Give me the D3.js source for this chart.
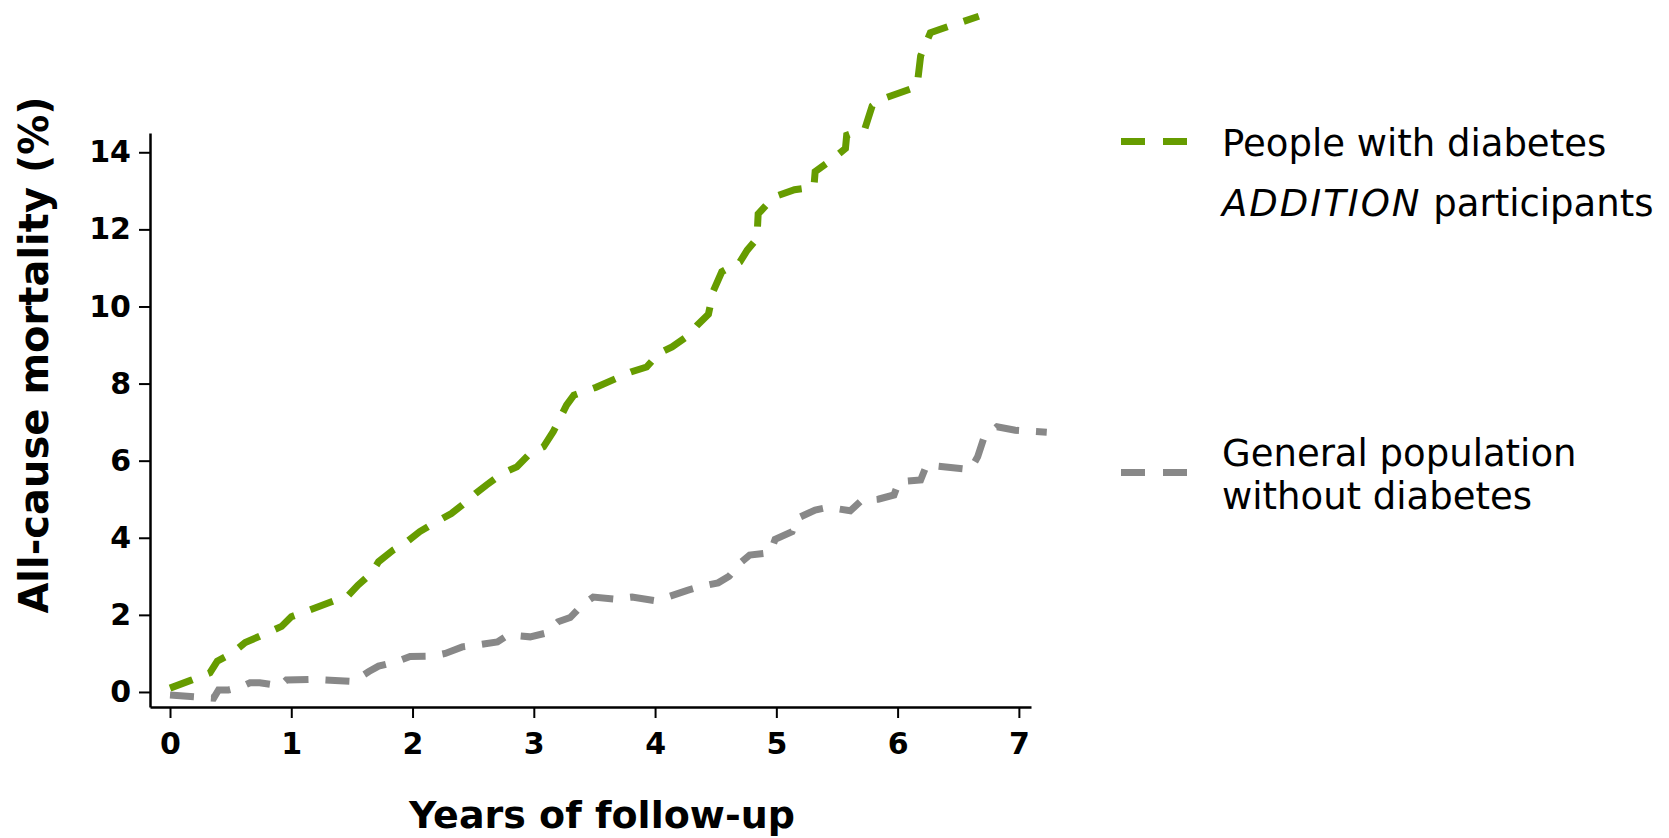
<!DOCTYPE html>
<html>
<head>
<meta charset="utf-8">
<script src="https://cdn.jsdelivr.net/npm/d3@7"></script>
<style>
  body { margin: 0; background: #fff; }
  svg { display: block; font-family: "DejaVu Sans", Verdana, sans-serif; }
</style>
</head>
<body>
<svg width="1669" height="838"></svg>
<script>
const svg = d3.select("svg");

// Cumulative all-cause mortality (%)
const diabetesYears = [0, 0.17, 0.33, 0.39, 0.51, 0.62, 0.92, 1.0, 1.47, 1.55, 1.66, 1.72, 1.84, 1.94,
  2.06, 2.17, 2.32, 2.41, 2.52, 2.61, 2.74, 2.86, 2.97, 3.08, 3.16, 3.27, 3.33, 3.51, 3.80, 3.93,
  4.03, 4.14, 4.28, 4.35, 4.44, 4.48, 4.55, 4.70, 4.76, 4.84, 4.85, 4.98, 5.15, 5.31, 5.32, 5.45,
  5.57, 5.58, 5.73, 5.79, 5.86, 6.16, 6.19, 6.27, 6.34, 6.67];
const diabetesMortality = [0.1, 0.3, 0.5, 0.8, 1.0, 1.28, 1.7, 1.95, 2.5, 2.77, 3.08, 3.38, 3.68, 3.86,
  4.16, 4.37, 4.63, 4.85, 5.15, 5.37, 5.67, 5.84, 6.19, 6.36, 6.75, 7.44, 7.7, 7.9, 8.3, 8.43,
  8.78, 8.95, 9.26, 9.52, 9.8, 10.4, 10.9, 11.16, 11.46, 11.76, 12.4, 12.84, 13.03, 13.1, 13.5, 13.79,
  14.1, 14.44, 14.61, 15.2, 15.37, 15.7, 16.5, 17.1, 17.18, 17.53];

const generalYears = [0, 0.36, 0.40, 0.48, 0.59, 0.66, 0.74, 0.91, 0.96, 1.18, 1.51, 1.64, 1.72, 1.87,
  1.98, 2.16, 2.27, 2.41, 2.53, 2.70, 2.79, 2.97, 3.09, 3.20, 3.30, 3.41, 3.49, 3.66, 3.81, 4.0,
  4.11, 4.26, 4.37, 4.52, 4.61, 4.70, 4.78, 4.95, 4.99, 5.13, 5.17, 5.32, 5.43, 5.61, 5.70, 5.84,
  5.97, 6.01, 6.19, 6.24, 6.60, 6.66, 6.71, 6.82, 6.97, 7.23];
const generalMortality = [-0.08, -0.16, 0.05, 0.05, 0.14, 0.24, 0.24, 0.16, 0.31, 0.33, 0.27, 0.53, 0.67, 0.79,
  0.92, 0.93, 1.0, 1.17, 1.22, 1.30, 1.48, 1.43, 1.52, 1.82, 1.93, 2.29, 2.46, 2.41, 2.46, 2.37,
  2.47, 2.63, 2.73, 2.83, 3.0, 3.34, 3.55, 3.61, 3.96, 4.16, 4.5, 4.72, 4.79, 4.70, 4.96, 5.0,
  5.11, 5.45, 5.5, 5.89, 5.77, 6.1, 6.58, 6.88, 6.79, 6.74];

const xTicks = [0, 1, 2, 3, 4, 5, 6, 7];
const yTicks = [0, 2, 4, 6, 8, 10, 12, 14];

const series = [
  { name: ["People with diabetes", "ADDITION participants"], years: diabetesYears, values: diabetesMortality, color: "#669c00" },
  { name: ["General population", "without diabetes"], years: generalYears, values: generalMortality, color: "#888888" }
];

const x = d3.scaleLinear().domain([-0.165, 7.1]).range([150, 1031]);
const y = d3.scaleLinear().domain([-0.39, 14.5]).range([707, 133]);

// Axes
const xAxis = svg.append("g")
  .attr("transform", "translate(0,707)")
  .call(d3.axisBottom(x).tickValues(xTicks).tickSize(11).tickSizeOuter(0).tickPadding(15));
const yAxis = svg.append("g")
  .attr("transform", "translate(150,0)")
  .call(d3.axisLeft(y).tickValues(yTicks).tickSize(11).tickSizeOuter(0).tickPadding(8));

[xAxis, yAxis].forEach(g => {
  g.select(".domain").attr("stroke", "#000").attr("stroke-width", 2.5);
  g.selectAll(".tick line").attr("stroke", "#000").attr("stroke-width", 2);
  g.selectAll(".tick text")
    .attr("fill", "#000")
    .attr("font-family", "DejaVu Sans")
    .attr("font-weight", "bold")
    .attr("font-size", 30);
});
xAxis.selectAll(".tick text").attr("dy", "0.71em");

// Axis titles
svg.append("text")
  .attr("x", 602).attr("y", 828)
  .attr("text-anchor", "middle")
  .attr("font-weight", "bold")
  .attr("font-size", 38)
  .text("Years of follow-up");

svg.append("text")
  .attr("transform", "translate(48,355) rotate(-90)")
  .attr("text-anchor", "middle")
  .attr("font-weight", "bold")
  .attr("font-size", 40)
  .text("All-cause mortality (%)");

// Curves
const line = d3.line()
  .x(d => x(d[0]))
  .y(d => y(d[1]));

svg.append("g")
  .selectAll("path")
  .data(series)
  .join("path")
  .attr("d", d => line(d.years.map((t, i) => [t, d.values[i]])))
  .attr("fill", "none")
  .attr("stroke", d => d.color)
  .attr("stroke-width", 7)
  .attr("stroke-dasharray", "24,17");

// Legend
const legendY = [141.6, 472.6];
const legendTextY = [[156, 216], [466, 509]];

const legend = svg.append("g")
  .selectAll("g")
  .data(series)
  .join("g");

legend.append("line")
  .attr("x1", 1121).attr("x2", 1187)
  .attr("y1", (d, i) => legendY[i]).attr("y2", (d, i) => legendY[i])
  .attr("stroke", d => d.color)
  .attr("stroke-width", 7)
  .attr("stroke-dasharray", "24,18");

legend.each(function(d, i) {
  const g = d3.select(this);
  d.name.forEach((label, j) => {
    const t = g.append("text")
      .attr("x", 1222)
      .attr("y", legendTextY[i][j])
      .attr("font-size", 37)
      .attr("fill", "#000");
    if (label.startsWith("ADDITION")) {
      t.append("tspan").attr("font-style", "italic").attr("letter-spacing", 2).text("ADDITION");
      t.append("tspan").text(" participants");
    } else {
      t.text(label);
    }
  });
});
</script>
</body>
</html>
